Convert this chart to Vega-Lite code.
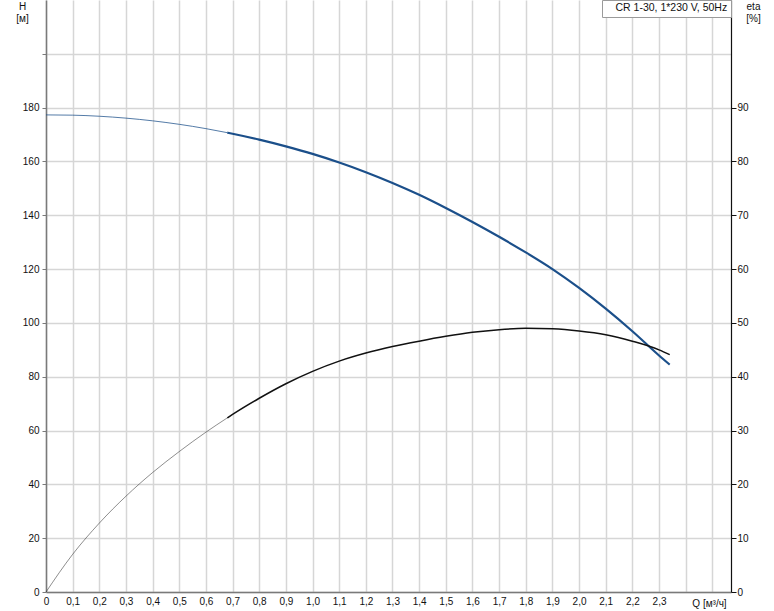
{
  "$schema": "https://vega.github.io/schema/vega-lite/v6.json",
  "width": 685,
  "height": 592,
  "autosize": {"type": "none"},
  "padding": {"left": 46, "top": 0, "right": 43, "bottom": 19},
  "background": "white",
  "config": {
    "view": {"stroke": null},
    "font": "Liberation Sans",
    "axis": {
      "labelFont": "Liberation Sans",
      "labelFontSize": 10,
      "labelColor": "#111",
      "titleFont": "Liberation Sans",
      "titleFontSize": 10,
      "titleFontWeight": "normal",
      "titleColor": "#111",
      "gridColor": "#d6d6d6",
      "gridWidth": 1.5
    }
  },
  "datasets": {
    "H": [
      {"Q": 0, "H": 177.3, "seg": "thin", "pump": "CR 1-30, 1*230 V, 50Hz"},
      {"Q": 0.1, "H": 177.2, "seg": "thin", "pump": "CR 1-30, 1*230 V, 50Hz"},
      {"Q": 0.2, "H": 176.8, "seg": "thin", "pump": "CR 1-30, 1*230 V, 50Hz"},
      {"Q": 0.3, "H": 176.1, "seg": "thin", "pump": "CR 1-30, 1*230 V, 50Hz"},
      {"Q": 0.4, "H": 175.1, "seg": "thin", "pump": "CR 1-30, 1*230 V, 50Hz"},
      {"Q": 0.5, "H": 173.8, "seg": "thin", "pump": "CR 1-30, 1*230 V, 50Hz"},
      {"Q": 0.6, "H": 172.2, "seg": "thin", "pump": "CR 1-30, 1*230 V, 50Hz"},
      {"Q": 0.68, "H": 170.7, "seg": "thin", "pump": "CR 1-30, 1*230 V, 50Hz"},
      {"Q": 0.68, "H": 170.7, "seg": "thick", "pump": "CR 1-30, 1*230 V, 50Hz"},
      {"Q": 0.7, "H": 170.3, "seg": "thick", "pump": "CR 1-30, 1*230 V, 50Hz"},
      {"Q": 0.8, "H": 168.1, "seg": "thick", "pump": "CR 1-30, 1*230 V, 50Hz"},
      {"Q": 0.9, "H": 165.6, "seg": "thick", "pump": "CR 1-30, 1*230 V, 50Hz"},
      {"Q": 1.0, "H": 162.8, "seg": "thick", "pump": "CR 1-30, 1*230 V, 50Hz"},
      {"Q": 1.1, "H": 159.6, "seg": "thick", "pump": "CR 1-30, 1*230 V, 50Hz"},
      {"Q": 1.2, "H": 156.0, "seg": "thick", "pump": "CR 1-30, 1*230 V, 50Hz"},
      {"Q": 1.3, "H": 152.0, "seg": "thick", "pump": "CR 1-30, 1*230 V, 50Hz"},
      {"Q": 1.4, "H": 147.6, "seg": "thick", "pump": "CR 1-30, 1*230 V, 50Hz"},
      {"Q": 1.5, "H": 142.7, "seg": "thick", "pump": "CR 1-30, 1*230 V, 50Hz"},
      {"Q": 1.6, "H": 137.5, "seg": "thick", "pump": "CR 1-30, 1*230 V, 50Hz"},
      {"Q": 1.7, "H": 132.0, "seg": "thick", "pump": "CR 1-30, 1*230 V, 50Hz"},
      {"Q": 1.8, "H": 126.2, "seg": "thick", "pump": "CR 1-30, 1*230 V, 50Hz"},
      {"Q": 1.9, "H": 120.0, "seg": "thick", "pump": "CR 1-30, 1*230 V, 50Hz"},
      {"Q": 2.0, "H": 113.0, "seg": "thick", "pump": "CR 1-30, 1*230 V, 50Hz"},
      {"Q": 2.1, "H": 105.3, "seg": "thick", "pump": "CR 1-30, 1*230 V, 50Hz"},
      {"Q": 2.2, "H": 96.9, "seg": "thick", "pump": "CR 1-30, 1*230 V, 50Hz"},
      {"Q": 2.3, "H": 87.9, "seg": "thick", "pump": "CR 1-30, 1*230 V, 50Hz"},
      {"Q": 2.34, "H": 84.5, "seg": "thick", "pump": "CR 1-30, 1*230 V, 50Hz"}
    ],
    "eta": [
      {"Q": 0, "eta": 0, "seg": "thin"},
      {"Q": 0.1, "eta": 7.0, "seg": "thin"},
      {"Q": 0.2, "eta": 12.8, "seg": "thin"},
      {"Q": 0.3, "eta": 17.8, "seg": "thin"},
      {"Q": 0.4, "eta": 22.2, "seg": "thin"},
      {"Q": 0.5, "eta": 26.1, "seg": "thin"},
      {"Q": 0.6, "eta": 29.7, "seg": "thin"},
      {"Q": 0.68, "eta": 32.35, "seg": "thin"},
      {"Q": 0.68, "eta": 32.35, "seg": "thick"},
      {"Q": 0.7, "eta": 33.0, "seg": "thick"},
      {"Q": 0.8, "eta": 36.0, "seg": "thick"},
      {"Q": 0.9, "eta": 38.7, "seg": "thick"},
      {"Q": 1.0, "eta": 41.0, "seg": "thick"},
      {"Q": 1.1, "eta": 42.9, "seg": "thick"},
      {"Q": 1.2, "eta": 44.4, "seg": "thick"},
      {"Q": 1.3, "eta": 45.6, "seg": "thick"},
      {"Q": 1.4, "eta": 46.6, "seg": "thick"},
      {"Q": 1.5, "eta": 47.5, "seg": "thick"},
      {"Q": 1.6, "eta": 48.25, "seg": "thick"},
      {"Q": 1.7, "eta": 48.75, "seg": "thick"},
      {"Q": 1.8, "eta": 49.0, "seg": "thick"},
      {"Q": 1.9, "eta": 48.9, "seg": "thick"},
      {"Q": 2.0, "eta": 48.5, "seg": "thick"},
      {"Q": 2.1, "eta": 47.8, "seg": "thick"},
      {"Q": 2.2, "eta": 46.6, "seg": "thick"},
      {"Q": 2.3, "eta": 45.0, "seg": "thick"},
      {"Q": 2.34, "eta": 44.1, "seg": "thick"}
    ]
  },
  "encoding": {
    "x": {
      "field": "Q",
      "type": "quantitative",
      "scale": {"domain": [0, 2.57], "nice": false, "zero": true},
      "axis": {
        "values": [0, 0.1, 0.2, 0.3, 0.4, 0.5, 0.6, 0.7, 0.8, 0.9, 1.0, 1.1, 1.2, 1.3, 1.4, 1.5, 1.6, 1.7, 1.8, 1.9, 2.0, 2.1, 2.2, 2.3, 2.4, 2.5],
        "labelExpr": "datum.value > 2.35 ? '' : (datum.value == 0 ? '0' : replace(format(datum.value, '.1f'), '.', ','))",
        "ticks": false,
        "labelPadding": 4,
        "labelFlush": false,
        "domainColor": "#7a7a7a",
        "domainWidth": 1.5,
        "grid": true,
        "title": "Q [м³/ч]",
        "titleX": 663,
        "titleY": 14,
        "titleAlign": "center",
        "titleBaseline": "alphabetic",
        "titleAnchor": null
      }
    }
  },
  "layer": [
    {
      "data": {"name": "H"},
      "mark": {"type": "line", "interpolate": "monotone"},
      "encoding": {
        "y": {
          "field": "H",
          "type": "quantitative",
          "scale": {"domain": [0, 220], "nice": false},
          "axis": {
            "orient": "left",
            "values": [0, 20, 40, 60, 80, 100, 120, 140, 160, 180, 200],
            "labelExpr": "datum.value > 190 ? '' : datum.label",
            "grid": true,
            "tickSize": 4,
            "tickColor": "#7a7a7a",
            "labelPadding": 3,
            "domainColor": "#7a7a7a",
            "domainWidth": 1.5,
            "title": ["H", "[м]"],
            "titleAngle": 0,
            "titleX": -24,
            "titleY": 1,
            "titleAlign": "center",
            "titleBaseline": "top",
            "titleLineHeight": 12,
            "titleAnchor": null
          }
        },
        "detail": {"field": "seg"},
        "color": {
          "field": "pump",
          "type": "nominal",
          "scale": {"range": ["#1b4f8a"]},
          "legend": {
            "orient": "top-right",
            "offset": 0,
            "title": null,
            "strokeColor": "#9a9a9a",
            "fillColor": "white",
            "padding": 3,
            "symbolSize": 0,
            "symbolStrokeWidth": 0,
            "symbolOpacity": 0,
            "labelOffset": 0,
            "labelFont": "Liberation Sans",
            "labelFontSize": 10.5,
            "labelColor": "#111"
          }
        },
        "strokeWidth": {
          "field": "seg",
          "type": "nominal",
          "scale": {"domain": ["thin", "thick"], "range": [1, 2.2]},
          "legend": null
        },
        "opacity": {
          "field": "seg",
          "type": "nominal",
          "scale": {"domain": ["thin", "thick"], "range": [0.75, 1]},
          "legend": null
        }
      }
    },
    {
      "data": {"name": "eta"},
      "mark": {"type": "line", "interpolate": "monotone", "color": "#111"},
      "encoding": {
        "y": {
          "field": "eta",
          "type": "quantitative",
          "scale": {"domain": [0, 110], "nice": false},
          "axis": {
            "orient": "right",
            "values": [0, 10, 20, 30, 40, 50, 60, 70, 80, 90],
            "grid": false,
            "tickSize": 5,
            "tickColor": "#111",
            "labelPadding": 1,
            "domainColor": "#111",
            "domainWidth": 1.2,
            "title": ["eta", "[%]"],
            "titleAngle": 0,
            "titleX": 22,
            "titleY": 1,
            "titleAlign": "center",
            "titleBaseline": "top",
            "titleLineHeight": 12,
            "titleAnchor": null
          }
        },
        "detail": {"field": "seg"},
        "strokeWidth": {
          "field": "seg",
          "type": "nominal",
          "scale": {"domain": ["thin", "thick"], "range": [0.8, 1.5]},
          "legend": null
        },
        "opacity": {
          "field": "seg",
          "type": "nominal",
          "scale": {"domain": ["thin", "thick"], "range": [0.6, 1]},
          "legend": null
        }
      }
    }
  ],
  "resolve": {"scale": {"y": "independent", "strokeWidth": "independent", "opacity": "independent"}}
}
